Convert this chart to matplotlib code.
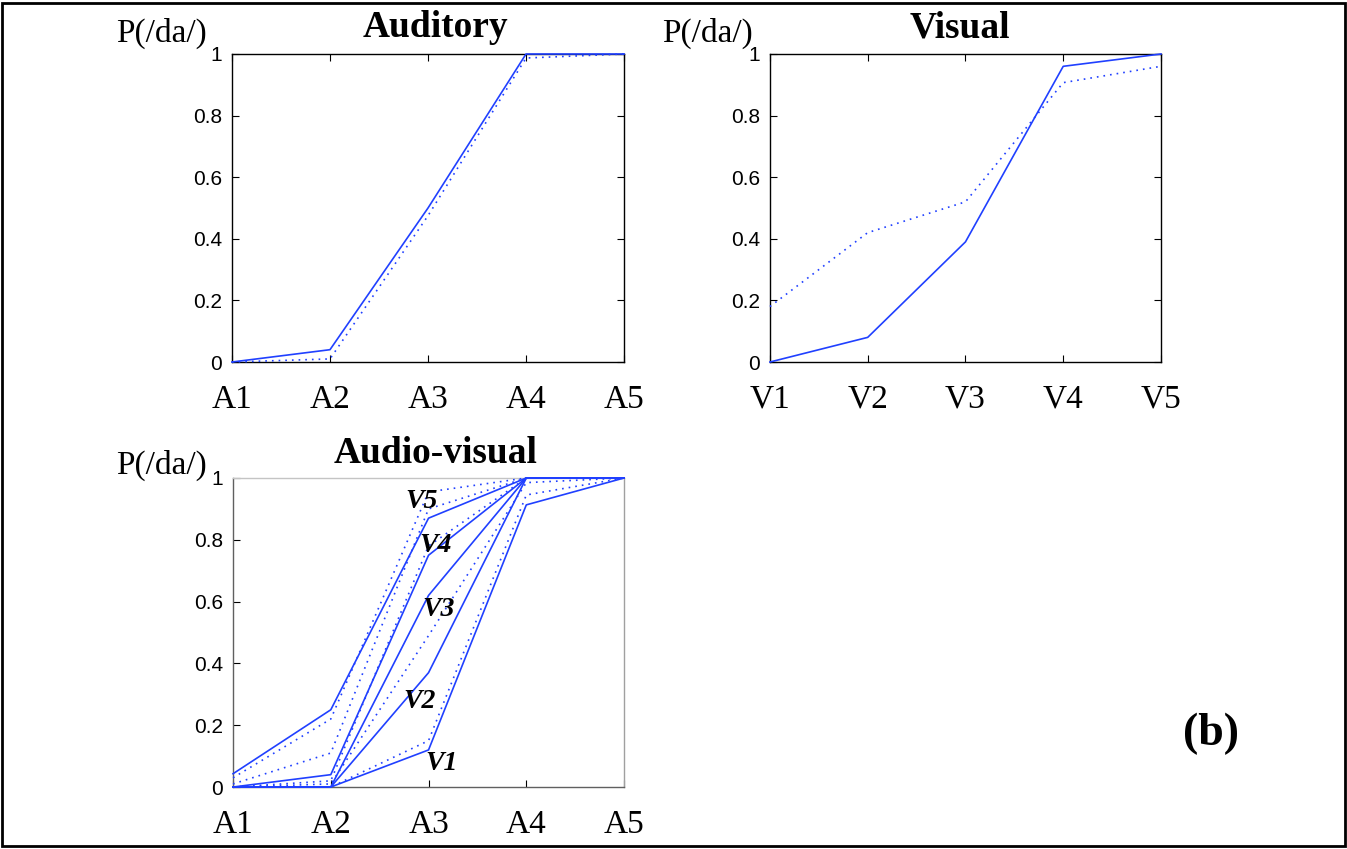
import matplotlib
import matplotlib.pyplot as plt
from matplotlib.patches import Rectangle

matplotlib.use("Agg")

SERIF = "Liberation Serif"
SANS = "Liberation Sans"
BLUE = "#2040ff"

levels = [1, 2, 3, 4, 5]
a_labels = ["A1", "A2", "A3", "A4", "A5"]
v_labels = ["V1", "V2", "V3", "V4", "V5"]
y_ticks = [0, 0.2, 0.4, 0.6, 0.8, 1]
y_ticklabels = ["0", "0.2", "0.4", "0.6", "0.8", "1"]

# unimodal identification: observed (solid) and model prediction (dotted)
aud_obs = [0.0, 0.04, 0.50, 1.0, 1.0]
aud_fit = [0.0, 0.01, 0.475, 0.987, 1.0]
vis_obs = [0.0, 0.08, 0.39, 0.96, 1.0]
vis_fit = [0.18, 0.42, 0.52, 0.907, 0.96]

# bimodal identification, one row per visual level V1..V5
av_obs = [
    [0.0, 0.0, 0.12, 0.913, 1.0],
    [0.0, 0.0, 0.37, 1.0, 1.0],
    [0.0, 0.0, 0.62, 1.0, 1.0],
    [0.0, 0.04, 0.75, 1.0, 1.0],
    [0.043, 0.25, 0.87, 1.0, 1.0],
]
av_fit = [
    [0.0, 0.0, 0.15, 0.945, 1.0],
    [0.0, 0.01, 0.49, 0.985, 1.0],
    [0.0, 0.02, 0.78, 1.0, 1.0],
    [0.01, 0.11, 0.90, 1.0, 1.0],
    [0.03, 0.22, 0.955, 1.0, 1.0],
]


def style_axes(ax, xlabels, boxed=True):
    ax.set_xlim(1, 5)
    ax.set_ylim(0, 1)
    ax.set_xticks(levels)
    ax.set_xticklabels(xlabels, fontfamily=SERIF, fontsize=24)
    ax.set_yticks(y_ticks)
    ax.set_yticklabels(y_ticklabels, fontfamily=SANS, fontsize=15)
    ax.tick_params(direction="in", length=5, width=0.8, top=boxed, right=boxed)
    ax.tick_params(axis="x", pad=16)
    ax.tick_params(axis="y", pad=7)
    for s in ax.spines.values():
        s.set_linewidth(1.0)


def draw_pair(ax, obs, fit):
    ax.plot(levels, obs, color=BLUE, lw=1.2, clip_on=False, zorder=3)
    ax.plot(levels, fit, color=BLUE, lw=1.2, ls=(0, (1, 3)), clip_on=False, zorder=3)


fig = plt.figure(figsize=(13.47, 8.49), dpi=100)

# Auditory
ax1 = fig.add_axes([0.1722, 0.5736, 0.2911, 0.3628])
draw_pair(ax1, aud_obs, aud_fit)
style_axes(ax1, a_labels)
ax1.text(0.518, 1.054, "Auditory", transform=ax1.transAxes, ha="center", va="baseline",
         fontfamily=SERIF, fontweight="bold", fontsize=27)
ax1.text(-0.296, 1.068, "P(/da/)", transform=ax1.transAxes, ha="left", va="center",
         fontfamily=SERIF, fontsize=24)

# Visual
ax2 = fig.add_axes([0.5716, 0.5736, 0.2903, 0.3628])
draw_pair(ax2, vis_obs, vis_fit)
style_axes(ax2, v_labels)
ax2.text(0.486, 1.054, "Visual", transform=ax2.transAxes, ha="center", va="baseline",
         fontfamily=SERIF, fontweight="bold", fontsize=27)
ax2.text(-0.276, 1.068, "P(/da/)", transform=ax2.transAxes, ha="left", va="center",
         fontfamily=SERIF, fontsize=24)

# Audio-visual
ax3 = fig.add_axes([0.1730, 0.0730, 0.2903, 0.3640])
for obs, fit in zip(av_obs, av_fit):
    draw_pair(ax3, obs, fit)
style_axes(ax3, a_labels, boxed=False)
ax3.spines["top"].set_color("#c4c4c4")
ax3.spines["right"].set_color("#a0a0a0")
ax3.spines["left"].set_color("#606060")
ax3.spines["bottom"].set_color("#606060")
ax3.text(0.519, 1.047, "Audio-visual", transform=ax3.transAxes, ha="center", va="baseline",
         fontfamily=SERIF, fontweight="bold", fontsize=27)
ax3.text(-0.298, 1.042, "P(/da/)", transform=ax3.transAxes, ha="left", va="center",
         fontfamily=SERIF, fontsize=24)
for name, (lx, ly) in zip(v_labels, [(3.13, 0.077), (2.91, 0.276), (3.10, 0.573),
                                     (3.07, 0.783), (2.93, 0.923)]):
    ax3.text(lx, ly, name, ha="center", va="center", fontfamily=SERIF,
             fontweight="bold", fontstyle="italic", fontsize=20, zorder=4)

fig.text(1211 / 1347, 1 - 734 / 849, "(b)", ha="center", va="center",
         fontfamily=SERIF, fontweight="bold", fontsize=33)

# outer border
fig.patches.append(Rectangle((2 / 1347, 3 / 849), 1343 / 1347, 843 / 849,
                             transform=fig.transFigure, fill=False, lw=2, ec="black"))

fig.savefig("out.png", dpi=100)
plt.close(fig)
